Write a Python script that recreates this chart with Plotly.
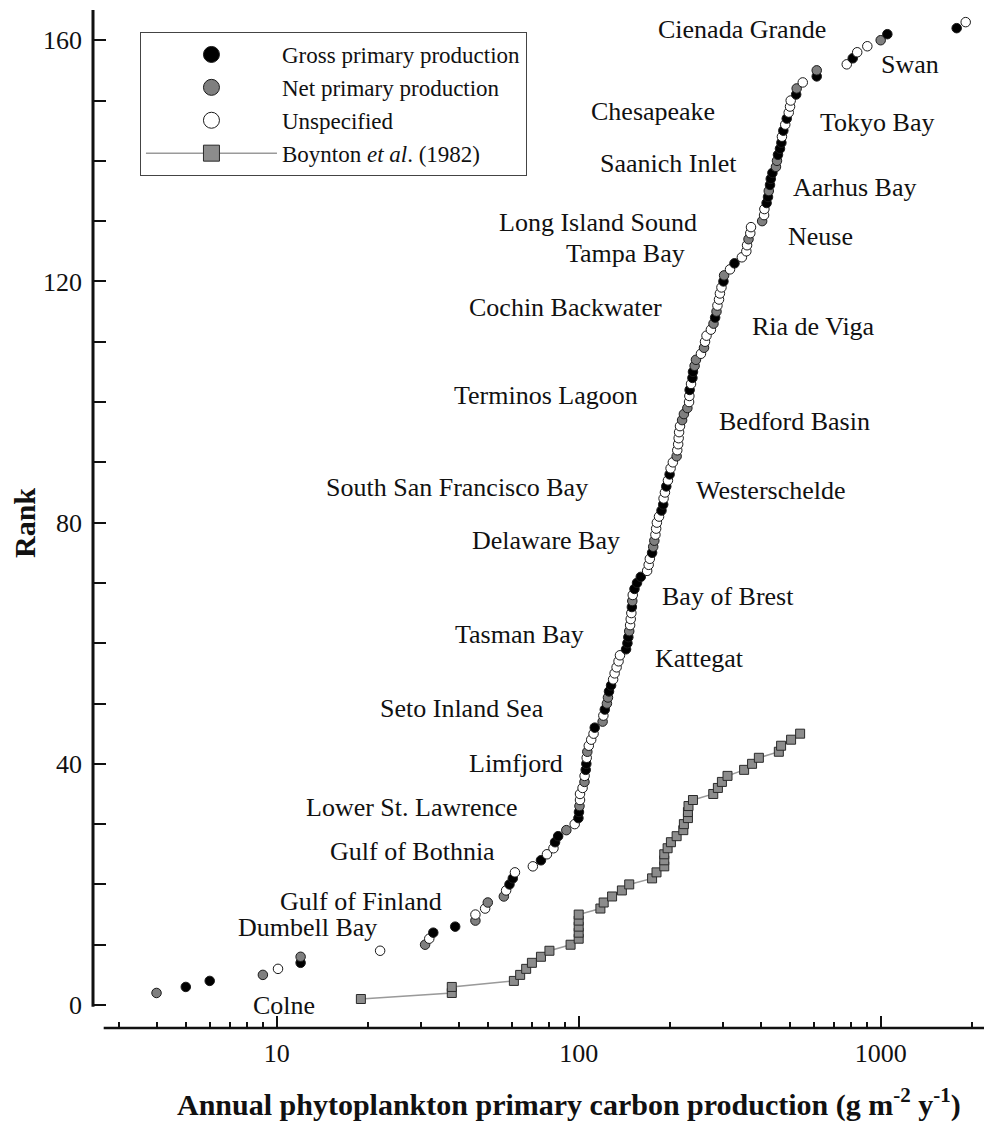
import math
import plotly.graph_objects as go

# Annual phytoplankton production of estuaries and coastal systems, ranked (rank 2..163)
site_rank = list(range(2, 164))
site_production = [
    4.0, 5.0, 6.0, 9.0, 10.1, 12.0, 12.0, 22, 31, 32,
    33, 39, 45.5, 45.5, 49, 50, 56.5, 57.5, 59, 60.5,
    61.5, 70.5, 75, 78.5, 82.5, 83.5, 85.5, 91, 97, 99.8,
    100.2, 100.6, 101, 101, 103, 104.5, 104.6, 105.5, 106, 106.3,
    106.8, 108, 110, 112, 113, 120, 120.7, 122, 124, 125,
    126, 128, 130, 131.5, 133.5, 135.5, 137, 143.5, 145, 146,
    147, 148, 148.7, 149.4, 150, 150.5, 151, 153, 156, 160.5,
    168.5, 170.5, 172, 175, 176.5, 178, 179.5, 180.5, 181.5, 184.5,
    188, 190.5, 191, 193, 195, 197.5, 200, 201.5, 205, 211,
    212, 213.5, 214.3, 215, 216.5, 220, 223, 229, 232, 232.5,
    233, 235.5, 238, 239, 242, 244.5, 254, 260, 262, 265,
    274, 279.5, 283, 286, 288, 291.5, 293.5, 297, 301.5, 303,
    317, 328, 347, 359, 361, 365, 370, 372, 405, 411,
    412, 419, 423.5, 426, 430, 432.5, 438, 450, 453.5, 457,
    464, 469, 471, 476, 483, 488.5, 496, 501, 503.5, 525,
    527, 552, 614, 614, 772, 808, 836, 903, 1000, 1052,
    1785, 1912,
]
# G = gross primary production, N = net primary production, U = unspecified
site_measure = list(
    "NGGNUGNUNU" "GGNUUNNUGG" "UUGUUGGNUG" "GNUUUNUGGU"
    "NUUUGNUGNN" "GGUUUUUGGG" "NUUUGNUGGG" "UUUGNNUUUU"
    "GGUUGUGUUN" "UUUUUNNNUU" "GUGGNNUNUU" "UNGNUUUUGN"
    "UGUUUNUUNU" "UGGNGGGNNG" "GGUGUGUUUG" "NUGNUGUUNG"
    "GU"
)

# Boynton et al. (1982) compilation
boynton_rank = list(range(1, 46))
boynton_production = [
    19, 38, 38, 61, 64, 67, 70, 75, 80, 94,
    100, 100, 100, 100, 100, 118, 121, 129, 139, 147,
    175, 181, 192, 192, 192, 197, 202, 211, 222, 223,
    230, 230, 231, 239, 279, 289, 298, 311, 353, 375,
    395, 460, 468, 505, 541,
]

measure_names = {
    "G": "Gross primary production",
    "N": "Net primary production",
    "U": "Unspecified",
}
measure_fill = {"G": "#000000", "N": "#7f7f7f", "U": "#ffffff"}

# site labels: (name, production, rank) used to place the text
site_labels = [
    ("Cienada Grande", 347, 161.7),
    ("Swan", 1250, 155.9),
    ("Chesapeake", 176, 148.1),
    ("Tokyo Bay", 972, 146.4),
    ("Saanich Inlet", 198, 139.5),
    ("Aarhus Bay", 816, 135.5),
    ("Long Island Sound", 115.9, 129.7),
    ("Neuse", 634, 127.4),
    ("Tampa Bay", 143.4, 124.7),
    ("Cochin Backwater", 90.1, 115.6),
    ("Ria de Viga", 601, 112.6),
    ("Terminos Lagoon", 77.9, 101.0),
    ("Bedford Basin", 520, 96.7),
    ("South San Francisco Bay", 39.5, 85.9),
    ("Westerschelde", 433, 85.4),
    ("Delaware Bay", 77.9, 77.1),
    ("Bay of Brest", 312, 67.8),
    ("Tasman Bay", 63.9, 61.5),
    ("Kattegat", 252, 57.5),
    ("Seto Inland Sea", 41.1, 49.1),
    ("Limfjord", 62.0, 40.0),
    ("Lower St. Lawrence", 28.1, 32.8),
    ("Gulf of Bothnia", 28.1, 25.4),
    ("Gulf of Finland", 19.0, 17.1),
    ("Dumbell Bay", 12.6, 12.9),
    ("Colne", 10.6, 0.0),
]

x_major = [10, 100, 1000]
x_minor = [3, 4, 5, 6, 7, 8, 9, 20, 30, 40, 50, 60, 70, 80, 90,
           200, 300, 400, 500, 600, 700, 800, 900, 2000]
y_major = [0, 40, 80, 120, 160]

SERIF = "Liberation Serif"
INK = "#111111"

fig = go.Figure()

fig.add_trace(go.Scatter(
    x=boynton_production, y=boynton_rank, mode="lines+markers",
    line=dict(color="#9a9a9a", width=1.5),
    marker=dict(symbol="square", size=9, color="#8c8c8c",
                line=dict(color="#2a2a2a", width=1)),
    showlegend=False, hoverinfo="x+y",
))

fig.add_trace(go.Scatter(
    x=site_production, y=site_rank, mode="markers",
    marker=dict(size=9.5, color=[measure_fill[m] for m in site_measure],
                line=dict(color="#1a1a1a", width=1)),
    showlegend=False, hoverinfo="x+y",
))

# legend entries
for key in ["G", "N", "U"]:
    fig.add_trace(go.Scatter(
        x=[None], y=[None], mode="markers", name=measure_names[key],
        marker=dict(size=16, color=measure_fill[key],
                    line=dict(color="#1a1a1a", width=1)),
    ))
fig.add_trace(go.Scatter(
    x=[None], y=[None], mode="lines+markers",
    name="Boynton <i>et al</i>. (1982)",
    line=dict(color="#9a9a9a", width=1.5),
    marker=dict(symbol="square", size=16, color="#8c8c8c",
                line=dict(color="#2a2a2a", width=1)),
))

annotations = []
for name, prod, rk in site_labels:
    annotations.append(dict(
        x=math.log10(prod), y=rk, xref="x", yref="y", text=name,
        showarrow=False, xanchor="center", yanchor="middle",
        font=dict(family=SERIF, size=26, color=INK),
    ))
annotations.append(dict(
    x=0.534, y=-0.073, xref="paper", yref="paper",
    text="<b>Annual phytoplankton primary carbon production (g m<sup>-2</sup> y<sup>-1</sup>)</b>",
    showarrow=False, xanchor="center", yanchor="middle",
    font=dict(family=SERIF, size=30, color=INK),
))
annotations.append(dict(
    x=-0.077, y=0.494, xref="paper", yref="paper", text="<b>Rank</b>",
    textangle=-90, showarrow=False, xanchor="center", yanchor="middle",
    font=dict(family=SERIF, size=30, color=INK),
))

shapes = [
    dict(type="line", xref="paper", yref="y", x0=0, x1=0, y0=-0.3, y1=165,
         line=dict(color=INK, width=3)),
    dict(type="line", xref="paper", yref="paper", x0=0.012, x1=1, y0=0, y1=0,
         line=dict(color=INK, width=2.5)),
]

fig.update_layout(
    width=984, height=1122,
    margin=dict(l=93, r=0, t=5, b=94),
    paper_bgcolor="white", plot_bgcolor="white",
    font=dict(family=SERIF, color=INK),
    annotations=annotations, shapes=shapes,
    legend=dict(
        x=0.0527, y=0.9736, xanchor="left", yanchor="top",
        bgcolor="white", bordercolor="#444444", borderwidth=1,
        font=dict(family=SERIF, size=23, color=INK),
        itemwidth=131, tracegroupgap=0,
    ),
    xaxis=dict(
        type="log", range=[0.3917, 3.3421],
        showgrid=False, zeroline=False, showline=False,
        ticks="inside", ticklen=12, tickwidth=2, tickcolor=INK,
        tickvals=x_major, ticktext=[str(v) for v in x_major],
        ticklabelstandoff=7,
        tickfont=dict(family=SERIF, size=26, color=INK),
        minor=dict(tickvals=x_minor, ticks="inside", ticklen=6,
                   tickwidth=2, tickcolor=INK, showgrid=False),
    ),
    yaxis=dict(
        range=[-3.81, 165.84],
        showgrid=False, zeroline=False, showline=False,
        ticks="inside", ticklen=13, tickwidth=2, tickcolor=INK,
        tickvals=y_major, ticklabelstandoff=10,
        tickfont=dict(family=SERIF, size=26, color=INK),
        minor=dict(dtick=10, tick0=0, ticks="inside", ticklen=13,
                   tickwidth=2, tickcolor=INK, showgrid=False),
    ),
)

fig.write_html("out.html")
